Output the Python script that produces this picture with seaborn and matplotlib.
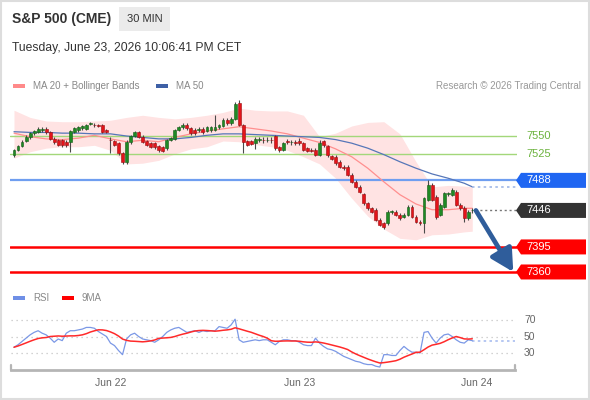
import numpy as np
import pandas as pd
import matplotlib
matplotlib.use("Agg")
import matplotlib.pyplot as plt
import seaborn as sns
from matplotlib.patches import Polygon, Rectangle
from matplotlib.transforms import blended_transform_factory

# ---------------- data (30-min candles) ----------------
opens = [7524, 7531, 7536, 7543, 7548, 7554, 7556, 7558, 7560, 7555,
         7546, 7544, 7544, 7542, 7542, 7556, 7558, 7561, 7560, 7567,
         7566, 7565, 7565, 7558, 7545, 7543, 7540, 7526, 7513, 7541,
         7550, 7555, 7549, 7543, 7540, 7540, 7536, 7534, 7533, 7545,
         7546, 7559, 7562, 7566, 7561, 7559, 7559, 7560, 7557, 7558,
         7559, 7562, 7564, 7573, 7568, 7574, 7596, 7565, 7543, 7543,
         7540, 7545, 7545, 7544, 7545, 7550, 7534, 7531, 7543, 7541,
         7541, 7543, 7540, 7533, 7531, 7531, 7524, 7543, 7536, 7522,
         7521, 7514, 7507, 7507, 7496, 7486, 7479, 7469, 7456, 7449,
         7447, 7433, 7428, 7428, 7444, 7444, 7440, 7437, 7440, 7451,
         7437, 7430, 7428, 7461, 7482, 7465, 7440, 7451, 7469, 7468,
         7472, 7454, 7450, 7435, 7446]
closes = [7530, 7536, 7542, 7549, 7554, 7557, 7560, 7560, 7555, 7546,
          7541, 7538, 7537, 7537, 7557, 7561, 7562, 7564, 7565, 7568,
          7565, 7564, 7556, 7556, 7544, 7538, 7526, 7513, 7542, 7550,
          7555, 7549, 7542, 7538, 7535, 7534, 7530, 7529, 7544, 7547,
          7558, 7562, 7566, 7561, 7554, 7554, 7559, 7555, 7562, 7562,
          7562, 7565, 7573, 7568, 7574, 7595, 7566, 7542, 7538, 7539,
          7546, 7545, 7544, 7545, 7544, 7533, 7530, 7540, 7542, 7541,
          7540, 7540, 7531, 7529, 7529, 7524, 7540, 7537, 7523, 7518,
          7512, 7507, 7505, 7496, 7486, 7479, 7472, 7456, 7449, 7444,
          7433, 7426, 7423, 7444, 7444, 7440, 7435, 7440, 7451, 7437,
          7430, 7428, 7463, 7482, 7461, 7437, 7454, 7470, 7469, 7475,
          7454, 7449, 7435, 7444, 7446]
highs = [7532, 7538, 7544, 7551, 7556, 7559, 7562, 7562, 7562, 7557,
         7548, 7546, 7546, 7544, 7559, 7563, 7564, 7566, 7567, 7570,
         7568, 7567, 7567, 7560, 7549, 7545, 7542, 7528, 7544, 7552,
         7557, 7557, 7551, 7545, 7542, 7542, 7538, 7536, 7546, 7549,
         7560, 7564, 7568, 7568, 7563, 7561, 7562, 7562, 7564, 7564,
         7580, 7567, 7575, 7575, 7576, 7597, 7600, 7567, 7545, 7545,
         7548, 7549, 7548, 7548, 7548, 7552, 7536, 7542, 7546, 7544,
         7544, 7547, 7542, 7535, 7533, 7533, 7544, 7545, 7538, 7524,
         7523, 7516, 7509, 7509, 7498, 7488, 7481, 7471, 7458, 7451,
         7449, 7435, 7430, 7446, 7447, 7446, 7442, 7442, 7453, 7453,
         7439, 7432, 7465, 7488, 7484, 7467, 7456, 7472, 7472, 7477,
         7474, 7456, 7452, 7446, 7449]
lows = [7521, 7529, 7534, 7541, 7546, 7552, 7554, 7556, 7553, 7544,
        7539, 7536, 7535, 7535, 7528, 7554, 7556, 7559, 7558, 7565,
        7563, 7562, 7554, 7554, 7526, 7536, 7524, 7511, 7511, 7539,
        7548, 7547, 7540, 7536, 7533, 7532, 7528, 7527, 7531, 7543,
        7544, 7557, 7560, 7559, 7552, 7552, 7556, 7553, 7555, 7556,
        7557, 7560, 7562, 7566, 7566, 7572, 7564, 7526, 7536, 7537,
        7532, 7541, 7540, 7541, 7540, 7531, 7528, 7529, 7539, 7538,
        7537, 7538, 7529, 7527, 7527, 7522, 7522, 7535, 7521, 7516,
        7510, 7505, 7503, 7494, 7484, 7477, 7470, 7454, 7447, 7442,
        7431, 7424, 7420, 7426, 7441, 7438, 7432, 7435, 7438, 7435,
        7428, 7426, 7414, 7459, 7459, 7434, 7438, 7449, 7466, 7466,
        7452, 7447, 7430, 7433, 7443]

# moving averages and Bollinger bands, read every 4 bars
ma_idx = [0, 4, 8, 12, 16, 20, 24, 28, 32, 36, 40, 44, 48, 52, 56,
          60, 64, 68, 72, 76, 80, 84, 88, 92, 96, 100, 104, 108, 112, 114]
ma20 = [7554, 7549, 7546, 7545, 7547, 7551, 7546, 7542, 7544, 7542,
        7548, 7553, 7557, 7560, 7563, 7560, 7557, 7553, 7547, 7541,
        7532, 7521, 7505, 7486, 7468, 7455, 7447, 7447, 7449, 7449]
ma50 = [7556, 7555, 7555, 7554, 7554, 7553, 7553, 7550, 7548, 7546,
        7546, 7548, 7551, 7553, 7553, 7552, 7551, 7550, 7549, 7548,
        7545, 7540, 7533, 7524, 7514, 7505, 7497, 7491, 7484, 7479]
bb_upper = [7586, 7576, 7571, 7570, 7570, 7571, 7572, 7576, 7579, 7576,
            7574, 7576, 7579, 7583, 7589, 7586, 7585, 7585, 7579, 7549,
            7554, 7564, 7569, 7570, 7553, 7514, 7479, 7481, 7480, 7479]
bb_lower = [7519, 7528, 7533, 7535, 7535, 7537, 7530, 7511, 7512, 7516,
            7525, 7532, 7535, 7543, 7542, 7538, 7535, 7530, 7521, 7511,
            7491, 7463, 7438, 7420, 7407, 7405, 7412, 7413, 7416, 7417]

rsi = [37, 40, 44, 48, 52, 55, 57, 54, 52, 48,
       43, 47, 45, 54, 57, 57, 58, 59, 61, 61,
       60, 56, 53, 50, 42, 39, 33, 28, 47, 52,
       54, 50, 47, 46, 45, 43, 46, 50, 55, 58,
       60, 61, 58, 55, 56, 57, 55, 57, 56, 57,
       57, 62, 61, 60, 64, 71, 46, 43, 44, 45,
       46, 45, 46, 46, 43, 40, 44, 46, 46, 45,
       45, 43, 40, 39, 39, 48, 42, 38, 35, 34,
       32, 29, 26, 24, 22, 20, 19, 17, 16, 16,
       14, 13, 28, 28, 27, 27, 33, 38, 34, 31,
       31, 30, 55, 56, 48, 42, 48, 52, 53, 50,
       46, 43, 42, 46, 45]

green_levels = [7550, 7525]
blue_level = 7488
last_level = 7446
red_levels = [7395, 7360]
rsi_levels = [70, 50, 30]
tick_idx = [24, 71, 115]
tick_labels = ["Jun 22", "Jun 23", "Jun 24"]

# ---------------- styling ----------------
sns.set_theme(style="white")
plt.rcParams['font.family'] = ['Liberation Sans', 'DejaVu Sans']

W, H = 590, 400
fig = plt.figure(figsize=(W / 100, H / 100), dpi=100)
fig.patch.set_facecolor('white')


def fx(px):
    return px / W


def fy(py):
    return 1 - py / H


def px_to_idx(px):
    return (px - 14) / 4.02


n = len(closes)
idx = np.arange(n)
df = pd.DataFrame({"i": idx, "open": opens, "high": highs, "low": lows, "close": closes})
ma_df = pd.DataFrame({"i": ma_idx, "ma20": ma20, "ma50": ma50, "up": bb_upper, "lo": bb_lower})

# ---------------- main price axes ----------------
ax = fig.add_axes([fx(10), fy(285), 507 / W, 190 / H])
ax.set_xlim(px_to_idx(10), px_to_idx(517))
ax.set_ylim(7341.8, 7607.3)
for s in ax.spines.values():
    s.set_visible(False)
ax.set_xticks([])
ax.set_yticks([])
ax.set_facecolor('none')

ax.fill_between(ma_df["i"], ma_df["lo"], ma_df["up"], color='#ffe3e3', lw=0, zorder=1)

for lv in green_levels:
    ax.axhline(lv, color='#a3d77a', lw=1.0, zorder=2)
ax.axhline(blue_level, color='#6f9ef0', lw=1.6, zorder=2)
for lv in red_levels:
    ax.axhline(lv, color='#ff0000', lw=1.8, zorder=2)

sns.lineplot(data=ma_df, x="i", y="ma20", ax=ax, color='#ff8f8f', lw=0.9, zorder=3)
sns.lineplot(data=ma_df, x="i", y="ma50", ax=ax, color='#5676b8', lw=0.9, zorder=3)

# candles
up = df["close"] >= df["open"]
body_col = np.where(up, '#1f8a24', '#e3141a')
edge_col = np.where(up, '#135c17', '#9a0c10')
ax.vlines(df["i"], df["low"], df["high"], color='#4a4a4a', lw=0.8, zorder=4)
hgt = (df["close"] - df["open"]).to_numpy().astype(float)
hgt = np.where(np.abs(hgt) < 1.0, np.where(hgt >= 0, 1.0, -1.0), hgt)
ax.bar(df["i"], hgt, bottom=df["open"], width=0.72, color=body_col,
       edgecolor=edge_col, linewidth=0.4, zorder=5)

# extensions to the right
last_i = idx[-1]
xr = ax.get_xlim()[1]
ax.plot([ma_idx[-1], xr], [ma50[-1], ma50[-1]], ls=(0, (1.5, 2)), color='#9fb7e6', lw=1.2, zorder=3)
ax.plot([last_i + 0.6, xr], [last_level, last_level], ls=(0, (1.5, 2)), color='#777777', lw=1.0, zorder=3)

# forecast arrow
ax.annotate("", xy=(last_i + 10.2, red_levels[-1]), xytext=(last_i + 0.9, closes[-1]),
            arrowprops=dict(arrowstyle='-|>,head_length=0.75,head_width=0.4', lw=3.4,
                            color='#2f5d9b', mutation_scale=18, shrinkA=0, shrinkB=0),
            zorder=6, annotation_clip=False)

# level labels
trans = blended_transform_factory(ax.transAxes, ax.transData)
x_text = (526 - 10) / 507
for lv in green_levels:
    ax.text(x_text, lv, f"{lv}", transform=trans, ha='left', va='center',
            fontsize=8, color='#6cb33e', clip_on=False)

hh = 7.5 * (ax.get_ylim()[1] - ax.get_ylim()[0]) / 190
x_tip = (516 - 10) / 507
x_n = (521 - 10) / 507
x_r = (586 - 10) / 507
for lv, col in [(blue_level, '#1f66f2'), (last_level, '#333333'),
                (red_levels[0], '#ff0000'), (red_levels[1], '#ff0000')]:
    poly = Polygon([(x_tip, lv), (x_n, lv + hh), (x_r, lv + hh), (x_r, lv - hh), (x_n, lv - hh)],
                   closed=True, transform=trans, facecolor=col, edgecolor='none',
                   clip_on=False, zorder=7)
    ax.add_patch(poly)
    ax.text(x_text, lv, f"{lv}", transform=trans, ha='left', va='center',
            fontsize=8, color='white', clip_on=False, zorder=8)

# ---------------- RSI axes ----------------
ax2 = fig.add_axes([fx(11), fy(370), 504 / W, 58 / H])
ax2.set_xlim(px_to_idx(11), px_to_idx(515))
ax2.set_ylim(9.4, 79.7)
ax2.set_facecolor('none')
for k in ['top', 'right', 'left']:
    ax2.spines[k].set_visible(False)
ax2.spines['bottom'].set_color('#b5b5b5')
ax2.spines['bottom'].set_linewidth(2)
for lv in rsi_levels:
    ax2.axhline(lv, color='#c4c4c4', lw=0.9, ls=(0, (1, 3)), zorder=1)
rsi_df = pd.DataFrame({"i": idx, "rsi": rsi})
rsi_df["ma9"] = rsi_df["rsi"].rolling(9, min_periods=1).mean()
sns.lineplot(data=rsi_df, x="i", y="rsi", ax=ax2, color='#7b98e6', lw=0.9, zorder=3)
sns.lineplot(data=rsi_df, x="i", y="ma9", ax=ax2, color='#ff2a2a', lw=1.1, zorder=4)
ax2.plot([last_i, ax2.get_xlim()[1]], [rsi[-1], rsi[-1]], ls=(0, (1.5, 2)),
         color='#a9bdf0', lw=1.2, zorder=2)
ax2.set_xlabel("")
ax2.set_ylabel("")
ax2.set_yticks([])
ax2.set_xticks(tick_idx)
ax2.set_xticklabels(tick_labels, fontsize=7.5, color='#666666')
ax2.tick_params(axis='x', length=0, pad=6)
for xa in [0, 1]:
    ax2.plot([xa, xa], [0, 0.09], transform=ax2.transAxes, color='#b5b5b5', lw=1.6, clip_on=False)
trans2 = blended_transform_factory(ax2.transAxes, ax2.transData)
for lv in rsi_levels:
    ax2.text((524 - 11) / 504, lv, f"{lv}", transform=trans2, ha='left', va='center',
             fontsize=7.5, color='#666666', clip_on=False)

# ---------------- header and legends ----------------
fig.text(fx(12), fy(19), "S&P 500 (CME)", fontsize=10, weight='bold', color='#333333', va='center')
fig.patches.append(Rectangle((fx(119), fy(31)), 51 / W, 24 / H, transform=fig.transFigure,
                             facecolor='#ebebeb', edgecolor='none'))
fig.text(fx(144.5), fy(19), "30 MIN", fontsize=8, color='#333333', ha='center', va='center')
fig.text(fx(12), fy(48), "Tuesday, June 23, 2026 10:06:41 PM CET", fontsize=8.7,
         color='#333333', va='center')


def legend_item(x0, y0, col, label):
    fig.patches.append(Rectangle((fx(x0), fy(y0 + 2)), 12 / W, 4.5 / H, transform=fig.transFigure,
                                 facecolor=col, edgecolor='none'))
    fig.text(fx(x0 + 20), fy(y0), label, fontsize=7, color='#888888', va='center')


legend_item(13, 86, '#ff8a8a', "MA 20 + Bollinger Bands")
legend_item(156, 86, '#3e60a6', "MA 50")
fig.text(fx(581), fy(86), "Research © 2026 Trading Central", fontsize=7, color='#999999',
         ha='right', va='center')
legend_item(13, 298, '#6f8fe6', "RSI")
legend_item(62, 298, '#ff0000', "9MA")

fig.patches.append(Rectangle((0.001, 0.002), 0.997, 0.996, transform=fig.transFigure,
                             fill=False, edgecolor='#dddddd', lw=1.5))

fig.savefig("out.png", dpi=100, facecolor='white')
